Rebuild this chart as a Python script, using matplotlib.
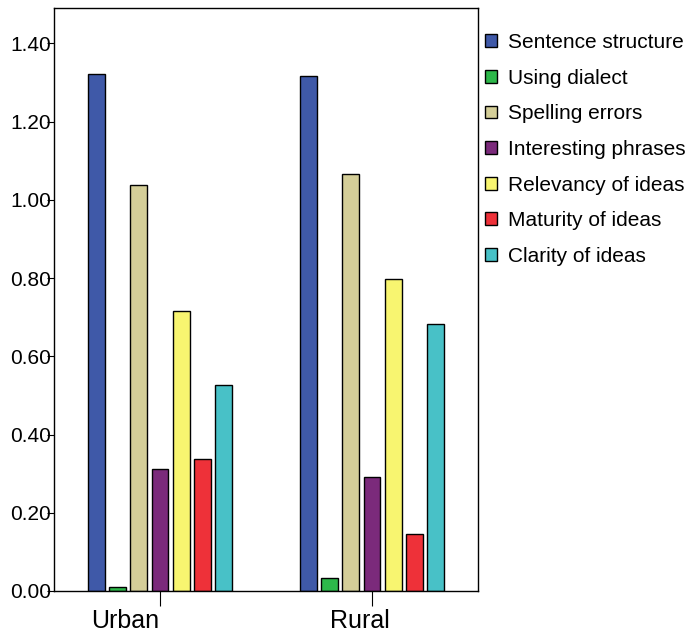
import matplotlib
matplotlib.use('Agg')
import matplotlib.pyplot as plt
import matplotlib.transforms as mtransforms
import numpy as np

plt.rcParams['font.family'] = ['Liberation Sans', 'DejaVu Sans']

# data
groups = ['Urban', 'Rural']
series = ['Sentence structure', 'Using dialect', 'Spelling errors',
          'Interesting phrases', 'Relevancy of ideas', 'Maturity of ideas',
          'Clarity of ideas']
urban = [1.323, 0.010, 1.037, 0.312, 0.715, 0.337, 0.526]
rural = [1.316, 0.033, 1.065, 0.291, 0.797, 0.146, 0.682]
colors = ['#3F59A8', '#2DB84A', '#D4CE98', '#7B2A7B', '#F8F570',
          '#EE3139', '#48C1C7']

fig = plt.figure(figsize=(6.87, 6.32), dpi=100)
ax = fig.add_axes([0.0786, 0.0649, 0.6172, 0.9221])

x = np.arange(len(groups))
step = 0.1
width = 0.08
for i, name in enumerate(series):
    vals = [urban[i], rural[i]]
    ax.bar(x + (i - 3) * step, vals, width, color=colors[i],
           edgecolor='black', linewidth=1, label=name)

ax.set_xlim(-0.5, 1.5)
ax.set_ylim(0, 1.49)
ticks = np.arange(0, 1.41, 0.2)
ax.set_yticks(ticks)
ax.set_yticklabels(['%.2f' % v for v in ticks], fontsize=15)
ax.set_xticks(x)
ax.set_xticklabels(groups, fontsize=18)
ax.tick_params(axis='y', length=5, pad=-3, width=0.8)
ax.tick_params(axis='x', length=11, pad=2, width=0.8)
for s in ax.spines.values():
    s.set_linewidth(1)

# category labels sit a bit left of their ticks, as in the original
shifts = [-35, -12]
for lab, dx in zip(ax.get_xticklabels(), shifts):
    off = mtransforms.ScaledTranslation(dx / 100, 0, fig.dpi_scale_trans)
    lab.set_transform(lab.get_transform() + off)

leg = ax.legend(loc='upper left', bbox_to_anchor=(485 / 687, 1 - 33 / 632),
                bbox_transform=fig.transFigure, frameon=False,
                fontsize=15, handlelength=0.58, handleheight=0.58,
                handletextpad=0.5, labelspacing=0.8, borderpad=0,
                borderaxespad=0)

fig.savefig('out.png', dpi=100)
